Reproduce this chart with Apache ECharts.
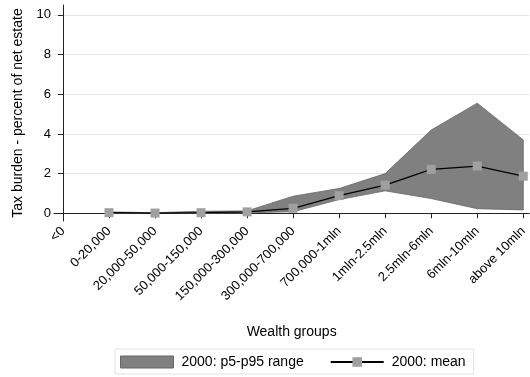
<!DOCTYPE html>
<html>
<head>
<meta charset="utf-8">
<script src="https://cdn.jsdelivr.net/npm/echarts@6/dist/echarts.min.js"></script>
<style>
  html, body { margin: 0; padding: 0; background: #fff; }
  #chart { width: 530px; height: 377px; }
</style>
</head>
<body>
<div id="chart"></div>
<script>
// Wealth groups on the horizontal axis
const categories = ['<0', '0-20,000', '20,000-50,000', '50,000-150,000', '150,000-300,000',
  '300,000-700,000', '700,000-1mln', '1mln-2.5mln', '2.5mln-6mln', '6mln-10mln', 'above 10mln'];

// Tax burden (percent of net estate), year 2000
const meanValues = [null, 0.03, 0.01, 0.03, 0.07, 0.25, 0.89, 1.42, 2.21, 2.38, 1.87];
const p5Values   = [null, 0.00, 0.00, 0.00, 0.02, 0.08, 0.69, 1.13, 0.74, 0.23, 0.17];
const p95Values  = [null, 0.07, 0.03, 0.10, 0.12, 0.86, 1.25, 2.00, 4.20, 5.55, 3.70];

const yTicks = [0, 2, 4, 6, 8, 10];
const xTicks = categories.map((_, i) => i);

const meanPts = meanValues.map((v, i) => [i, v]).filter(p => p[1] !== null);
const bandPts = p5Values.map((v, i) => [i, v, p95Values[i]]).filter(p => p[1] !== null);

const font = 'Liberation Sans, Arial, sans-serif';
const chart = echarts.init(document.getElementById('chart'), null, { renderer: 'canvas' });

// p5-p95 range drawn as one filled polygon: upper edge left to right, lower edge back
function renderBand(params, api) {
  if (params.dataIndex !== 0) return null;
  const upper = bandPts.map(p => api.coord([p[0], p[2]]));
  const lower = bandPts.map(p => api.coord([p[0], p[1]])).reverse();
  return {
    type: 'polygon',
    shape: { points: upper.concat(lower) },
    style: { fill: '#808080', stroke: '#666666', lineWidth: 0.8 }
  };
}

chart.setOption({
  animation: false,
  backgroundColor: '#ffffff',
  textStyle: { fontFamily: font },
  grid: { left: 54, right: 0, top: 5, bottom: 156, containLabel: false },
  xAxis: {
    type: 'value',
    min: -0.195,
    max: 10.13,
    name: 'Wealth groups',
    nameLocation: 'middle',
    nameGap: 104,
    nameTextStyle: { fontSize: 14, color: '#000', fontFamily: font },
    axisLine: { show: true, lineStyle: { color: '#222', width: 1 } },
    axisTick: { show: true, customValues: xTicks, length: 5, lineStyle: { color: '#222' } },
    axisLabel: {
      customValues: xTicks,
      rotate: 45,
      margin: 8,
      fontSize: 13,
      color: '#000',
      fontFamily: font,
      formatter: v => categories[Math.round(v)]
    },
    splitLine: { show: false }
  },
  yAxis: {
    type: 'value',
    min: -0.39,
    max: 10.5,
    name: 'Tax burden - percent of net estate',
    nameLocation: 'middle',
    nameRotate: 90,
    nameGap: 29,
    nameTextStyle: { fontSize: 14, color: '#000', fontFamily: font },
    axisLine: { show: true, lineStyle: { color: '#222', width: 1 } },
    axisTick: { show: true, customValues: yTicks, length: 5, lineStyle: { color: '#222' } },
    axisLabel: { customValues: yTicks, margin: 3, fontSize: 13, color: '#000', fontFamily: font },
    splitLine: { show: true, lineStyle: { color: '#e6e6e6', width: 1 } }
  },
  legend: {
    left: 115,
    top: 349,
    padding: [6, 8, 5, 5],
    itemGap: 26,
    itemWidth: 53,
    itemHeight: 12,
    borderColor: '#e2e2e2',
    borderWidth: 1,
    backgroundColor: '#fff',
    textStyle: { fontSize: 14, color: '#000', fontFamily: font, padding: [0, 0, 0, 3] },
    data: [
      { name: '2000: p5-p95 range', icon: 'rect',
        itemStyle: { color: '#808080', borderColor: '#666', borderWidth: 1 } },
      { name: '2000: mean' }
    ]
  },
  series: [
    {
      name: '2000: p5-p95 range',
      type: 'custom',
      renderItem: renderBand,
      data: bandPts,
      encode: { x: 0, y: [1, 2] },
      itemStyle: { color: '#808080' },
      silent: true,
      z: 1
    },
    {
      name: '2000: mean',
      type: 'line',
      data: meanPts,
      symbol: 'rect',
      symbolSize: 9,
      itemStyle: { color: '#a0a0a0' },
      lineStyle: { color: '#000', width: 1.2 },
      z: 3
    }
  ]
});
</script>
</body>
</html>
